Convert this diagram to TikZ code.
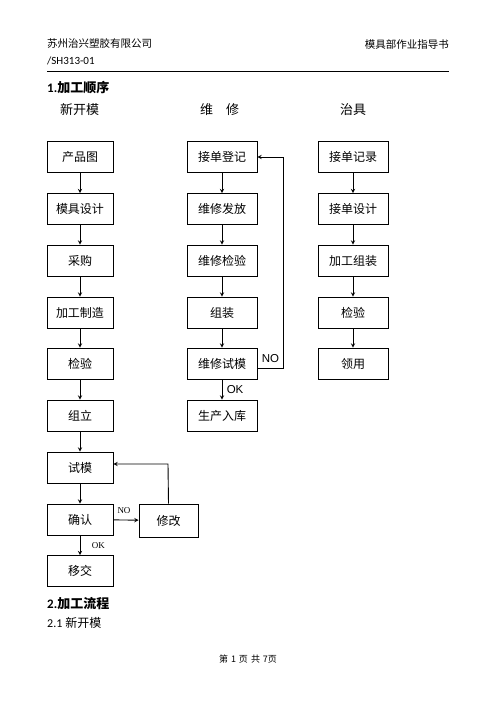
\documentclass[tikz,border=0pt]{standalone}
\usepackage{fontspec}
\setmainfont{Noto Sans CJK SC}
\newfontfamily\latinsans{Carlito}
\newfontfamily\arialfont{Liberation Sans}
\newfontfamily\timesfont{Liberation Serif}
\usetikzlibrary{arrows}
\usetikzlibrary{positioning, calc}

\begin{document}
\begin{tikzpicture}[x=1pt, y=-1pt,
    box/.style={draw=black, line width=0.8pt, minimum width=66pt, minimum height=31pt, inner sep=0pt, font=\fontsize{12}{12}\selectfont},
    widebox/.style={box, minimum width=70pt},
    flow/.style={->, >=stealth, line width=0.9pt}]
      \useasboundingbox (0, 0) rectangle (496, 702);

      % header
      \node[anchor=west, inner sep=0pt, font=\fontsize{10.5}{10.5}\selectfont] (company) at (47, 44) {苏州治兴塑胶有限公司};
      \node[anchor=east, inner sep=0pt, font=\fontsize{10.5}{10.5}\selectfont] (docname) at (449, 44) {模具部作业指导书};
      \node[anchor=west, inner sep=0pt, font=\latinsans\fontsize{11}{11}\selectfont] (docno) at (47, 61) {/SH313-01};
      \draw[line width=0.8pt] (47, 71) -- (449, 71);

      \node[anchor=west, inner sep=0pt, font=\fontsize{13}{13}\selectfont] (title1) at (47, 88) {{\latinsans\bfseries 1.}{\bfseries 加工顺序}};
      \node[anchor=west, inner sep=0pt, font=\fontsize{13}{13}\selectfont] (head1) at (60, 110) {新开模};
      \node[anchor=west, inner sep=0pt, font=\fontsize{13}{13}\selectfont] (head2) at (200, 110) {维\hspace{13pt}修};
      \node[anchor=west, inner sep=0pt, font=\fontsize{13}{13}\selectfont] (head3) at (340, 110) {治具};

      % new mould
      \node[box] (p1) at (80, 157) {产品图};
      \node[box] (p2) at (80, 209) {模具设计};
      \node[box] (p3) at (80, 260.5) {采购};
      \node[box] (p4) at (80, 312.5) {加工制造};
      \node[box] (p5) at (80, 363.5) {检验};
      \node[box] (p6) at (80, 415.5) {组立};
      \node[box] (p7) at (80, 467.5) {试模};
      \node[box] (p8) at (80, 519.5) {确认};
      \node[box] (p9) at (80, 571) {移交};
      \node[box, minimum width=59pt, minimum height=33pt] (fix) at (168.5, 520.5) {修改};

      \draw[flow] (p1) -- (p2);
      \draw[flow] (p2) -- (p3);
      \draw[flow] (p3) -- (p4);
      \draw[flow] (p4) -- (p5);
      \draw[flow] (p5) -- (p6);
      \draw[flow] (p6) -- (p7);
      \draw[flow] (p7) -- (p8);
      \draw[flow] (p8) -- (p9) node[midway, right=8pt, font=\timesfont\fontsize{9}{9}\selectfont] {OK};
      \draw[flow] (p8) -- (fix) node[midway, above=3pt, xshift=-2pt, font=\timesfont\fontsize{9}{9}\selectfont] {NO};
      \coordinate (fixback) at (168, 464);
      \draw[flow] (fix.north) -- (fixback) -- (p7.east |- fixback);

      % repair
      \node[widebox] (w1) at (222, 157) {接单登记};
      \node[widebox] (w2) at (222, 209) {维修发放};
      \node[widebox] (w3) at (222, 260.5) {维修检验};
      \node[widebox] (w4) at (222, 312.5) {组装};
      \node[widebox] (w5) at (222, 363.5) {维修试模};
      \node[widebox] (w6) at (222, 415.5) {生产入库};

      \draw[flow] (w1) -- (w2);
      \draw[flow] (w2) -- (w3);
      \draw[flow] (w3) -- (w4);
      \draw[flow] (w4) -- (w5);
      \draw[flow] (w5) -- (w6) node[midway, right=1pt, font=\arialfont\fontsize{11.5}{11.5}\selectfont] {OK};
      \coordinate (wback) at (283, 368);
      \draw[flow] (w5.east |- wback) -- (wback) -- (wback |- w1) -- (w1.east);
      \node[font=\arialfont\fontsize{11.5}{11.5}\selectfont, inner sep=0pt] (wno) at (270.5, 359) {NO};

      % fixture
      \node[widebox] (z1) at (353, 157) {接单记录};
      \node[widebox] (z2) at (353, 209) {接单设计};
      \node[widebox] (z3) at (353, 260.5) {加工组装};
      \node[widebox] (z4) at (353, 312.5) {检验};
      \node[widebox] (z5) at (353, 363.5) {领用};

      \draw[flow] (z1) -- (z2);
      \draw[flow] (z2) -- (z3);
      \draw[flow] (z3) -- (z4);
      \draw[flow] (z4) -- (z5);

      % footer
      \node[anchor=west, inner sep=0pt, font=\fontsize{13}{13}\selectfont] (title2) at (47, 604) {{\latinsans\bfseries 2.}{\bfseries 加工流程}};
      \node[anchor=west, inner sep=0pt, font=\fontsize{12}{12}\selectfont] (title21) at (47, 623) {{\latinsans 2.1}\hspace{3pt}新开模};
      \node[inner sep=0pt, font=\fontsize{9}{9}\selectfont] (page) at (248, 659) {第\hspace{3pt}1\hspace{3pt}页\hspace{3pt}共\hspace{3pt}7页};
\end{tikzpicture}
\end{document}
